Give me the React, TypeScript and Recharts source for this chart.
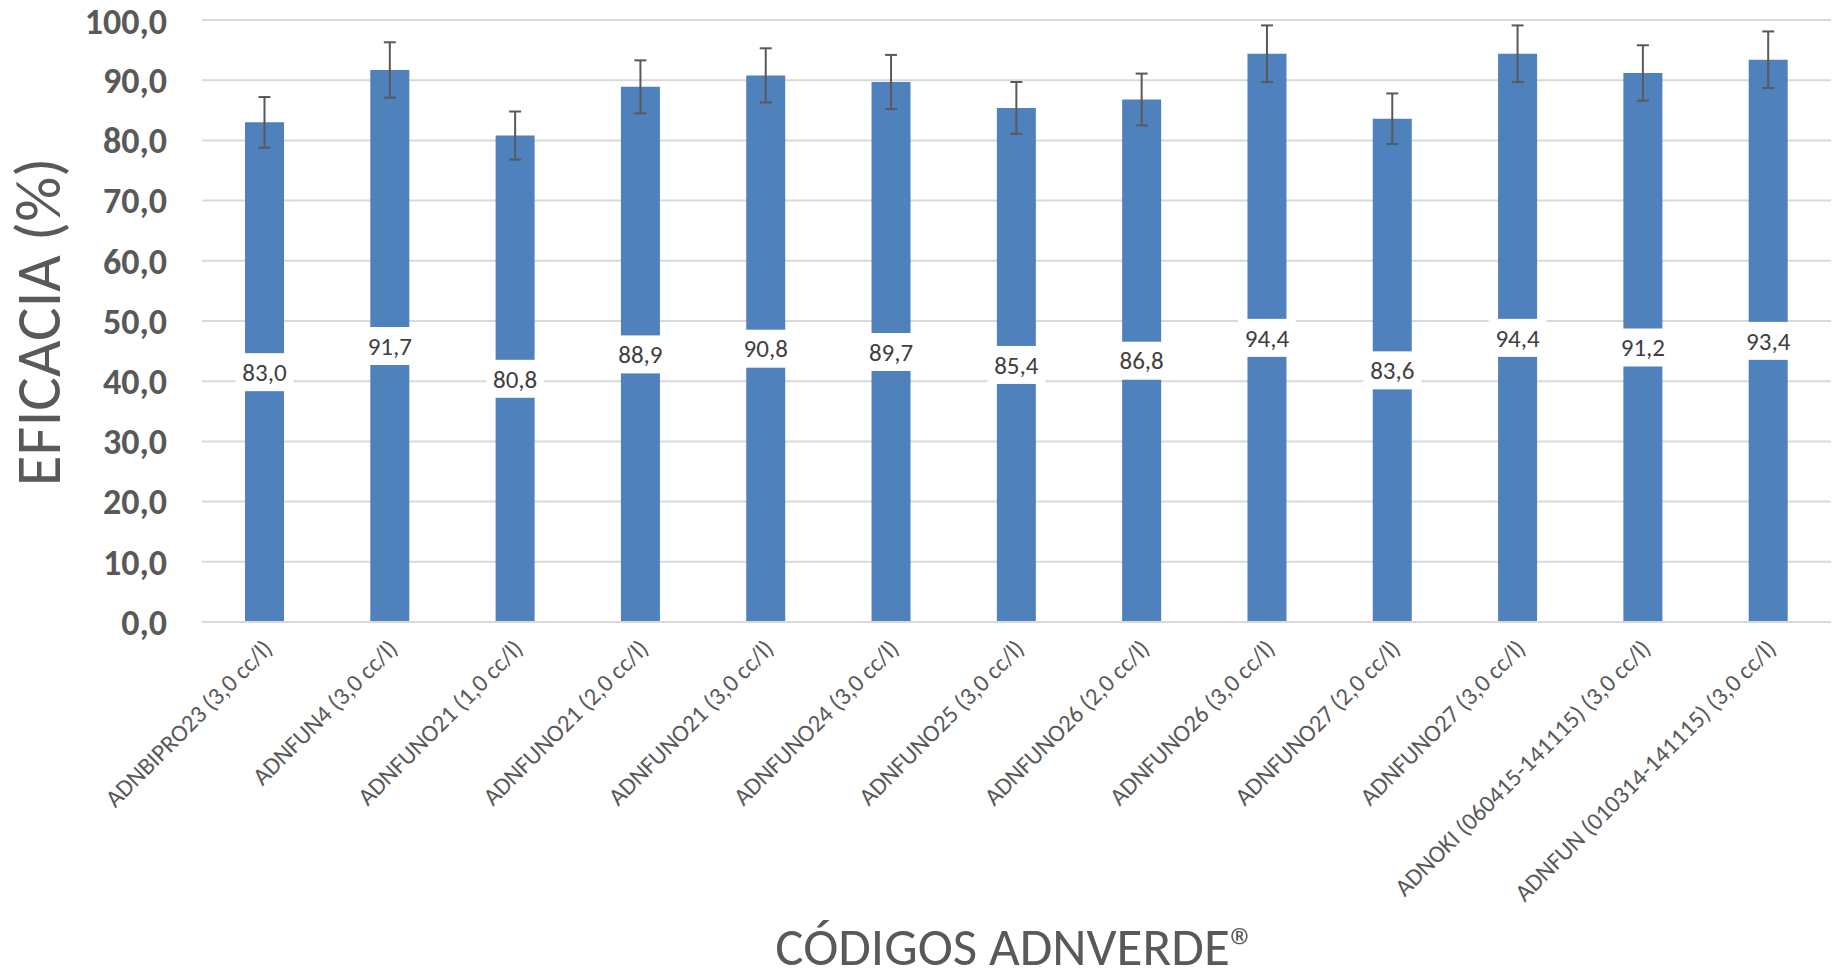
import { BarChart, Bar, XAxis, YAxis, CartesianGrid, ErrorBar, LabelList, Label } from 'recharts'

const FONT = 'Carlito, Calibri, Lato, sans-serif'

// Códigos de los productos (eje X)
const CATEGORIAS = [
  'ADNBIPRO23 (3,0 cc/l)',
  'ADNFUN4 (3,0 cc/l)',
  'ADNFUNO21 (1,0 cc/l)',
  'ADNFUNO21 (2,0 cc/l)',
  'ADNFUNO21 (3,0 cc/l)',
  'ADNFUNO24 (3,0 cc/l)',
  'ADNFUNO25 (3,0 cc/l)',
  'ADNFUNO26 (2,0 cc/l)',
  'ADNFUNO26 (3,0 cc/l)',
  'ADNFUNO27 (2,0 cc/l)',
  'ADNFUNO27 (3,0 cc/l)',
  'ADNOKI (060415-141115) (3,0 cc/l)',
  'ADNFUN (010314-141115) (3,0 cc/l)',
]

// Eficacia media (%)
const EFICACIA = [83.0, 91.7, 80.8, 88.9, 90.8, 89.7, 85.4, 86.8, 94.4, 83.6, 94.4, 91.2, 93.4]

// Barras de error (+/-)
const ERROR = [4.2, 4.6, 4.0, 4.4, 4.5, 4.5, 4.3, 4.3, 4.7, 4.2, 4.7, 4.6, 4.7]

const Y_TICKS = [0, 10, 20, 30, 40, 50, 60, 70, 80, 90, 100]

const data = CATEGORIAS.map((codigo, i) => ({
  codigo,
  eficacia: EFICACIA[i],
  err: ERROR[i],
}))

const fmt = (v: number) => v.toFixed(1).replace('.', ',')

function CategoryTick({ x, y, payload }: any) {
  return (
    <g transform={`translate(${x + 3},${y + 14})`}>
      <text
        x={0}
        y={0}
        dy="0.35em"
        textAnchor="end"
        transform="rotate(-45)"
        fill="#595959"
        fontSize={24.5}
        fontFamily={FONT}
      >
        {payload.value}
      </text>
    </g>
  )
}

function ValueLabel({ x, y, width, height, value }: any) {
  const cx = x + width / 2
  const cy = y + height / 2
  return (
    <g>
      <rect x={cx - 29} y={cy - 19} width={58} height={38} fill="#ffffff" />
      <text
        x={cx}
        y={cy}
        dy="0.35em"
        textAnchor="middle"
        fill="#404040"
        fontSize={25}
        fontFamily={FONT}
      >
        {fmt(Number(value))}
      </text>
    </g>
  )
}

export default function App() {
  return (
    <div style={{ position: 'absolute', left: 0, top: 0, width: 1835, height: 980, background: '#fff' }}>
      <BarChart
        width={1835}
        height={980}
        data={data}
        margin={{ top: 20, right: 4, left: 0, bottom: 0 }}
        barSize={39}
      >
        <CartesianGrid vertical={false} stroke="#d9d9d9" strokeWidth={2} />
        <XAxis
          dataKey="codigo"
          interval={0}
          height={358}
          tickLine={false}
          axisLine={{ stroke: '#d9d9d9', strokeWidth: 2 }}
          tick={<CategoryTick />}
        >
          <Label
            content={() => (
              <text
                x={1016}
                y={965}
                textAnchor="middle"
                fill="#595959"
                fontSize={53}
                fontFamily={FONT}
              >
                CÓDIGOS ADNVERDE®
              </text>
            )}
          />
        </XAxis>
        <YAxis
          width={202}
          domain={[0, 100]}
          ticks={Y_TICKS}
          tickFormatter={fmt}
          tickLine={false}
          axisLine={false}
          tickMargin={29}
          tick={{ fontSize: 36, fontWeight: 700, fill: '#595959', fontFamily: FONT }}
        >
          <Label
            content={() => (
              <text
                x={60}
                y={322}
                transform="rotate(-90, 60, 322)"
                textAnchor="middle"
                fill="#595959"
                fontSize={63}
                fontFamily={FONT}
              >
                EFICACIA (%)
              </text>
            )}
          />
        </YAxis>
        <Bar dataKey="eficacia" fill="#4f81bd" isAnimationActive={false}>
          <ErrorBar dataKey="err" direction="y" width={6} stroke="#595959" strokeWidth={2} isAnimationActive={false} />
          <LabelList dataKey="eficacia" content={<ValueLabel />} />
        </Bar>
      </BarChart>
    </div>
  )
}
